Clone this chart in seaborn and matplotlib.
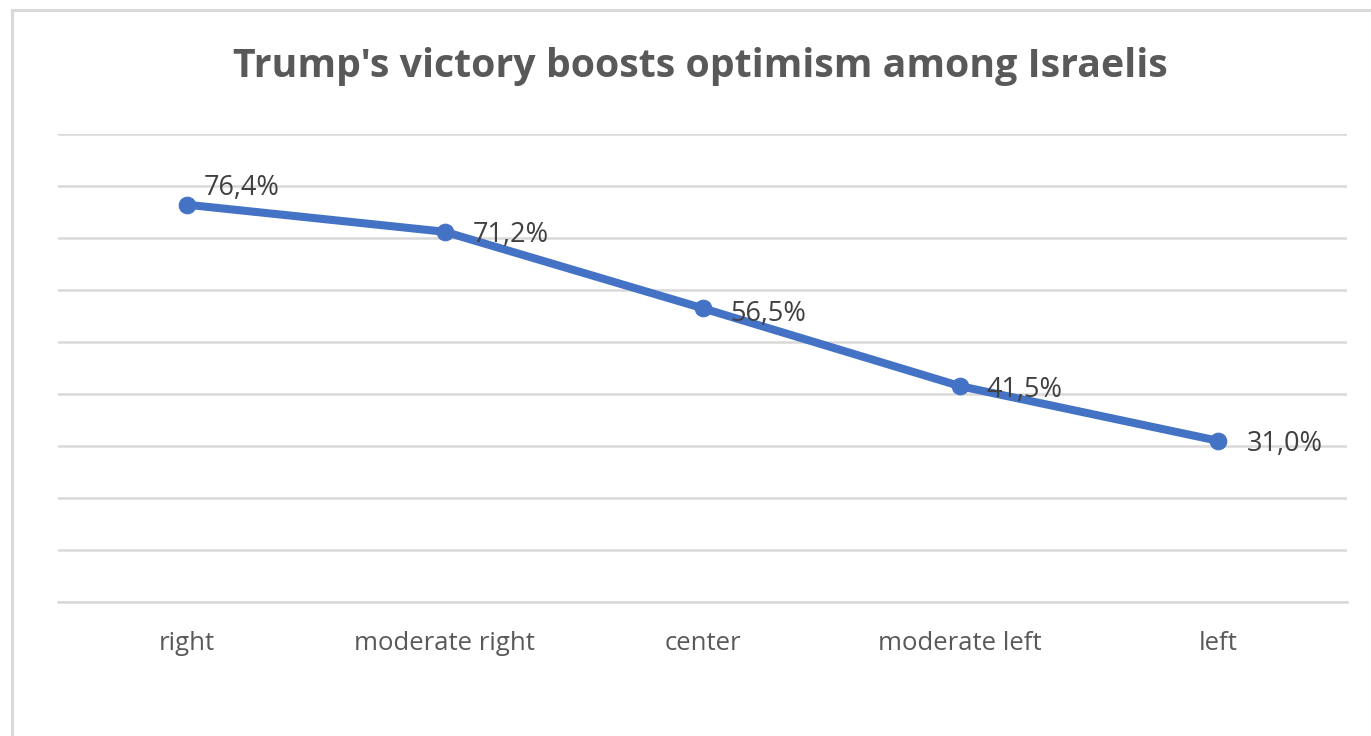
import matplotlib
matplotlib.use("Agg")
import matplotlib.pyplot as plt
import seaborn as sns
import pandas as pd
from matplotlib.patches import Rectangle

# === Data ===
categories = ["right", "moderate right", "center", "moderate left", "left"]
optimism = [76.4, 71.2, 56.5, 41.5, 31.0]
value_labels = ["76,4%", "71,2%", "56,5%", "41,5%", "31,0%"]
title = "Trump's victory boosts optimism among Israelis"


def main():
    sns.set_theme(style="white")
    plt.rcParams["font.family"] = ["Open Sans", "DejaVu Sans"]

    df = pd.DataFrame({"group": categories, "pct": optimism})
    df["pos"] = range(len(df))

    fig = plt.figure(figsize=(13.71, 7.36), dpi=100)
    # outer chart border (cropped on the right/bottom like the reference)
    fig.patches.append(Rectangle((12 / 1371, -0.05), 1.2, 1.05 - 10 / 736,
                                 transform=fig.transFigure, fill=False,
                                 edgecolor="#d9d9d9", linewidth=2.2))

    ax = fig.add_axes([58 / 1371, 1 - 602 / 736, (1347 - 58) / 1371, (602 - 134) / 736])

    sns.lineplot(data=df, x="pos", y="pct", ax=ax, color="#4472C4",
                 linewidth=5.8, marker="o", markersize=12,
                 markeredgecolor="#4472C4", zorder=3)

    ax.set_xlim(-0.5, len(categories) - 0.5)
    ax.set_ylim(0, 90)
    ax.set_yticks(range(0, 91, 10))
    ax.set_yticklabels([])
    ax.set_xticks(df["pos"])
    ax.set_xticklabels(categories, fontsize=18.5, color="#595959")
    ax.tick_params(axis="both", length=0)
    ax.tick_params(axis="x", pad=21)
    ax.set_xlabel("")
    ax.set_ylabel("")
    ax.grid(axis="y", color="#d9d9d9", linewidth=1.8)
    ax.set_axisbelow(True)
    for s in ax.spines.values():
        s.set_visible(False)
    ax.spines["bottom"].set_visible(True)
    ax.spines["bottom"].set_color("#d9d9d9")
    ax.spines["bottom"].set_linewidth(1.8)

    # data labels: right of points, the first one lifted above the line
    offsets = [(12, 12), (20, -2), (20, -4), (19, -3), (21, -2)]
    for i, (v, lab) in enumerate(zip(optimism, value_labels)):
        ax.annotate(lab, (i, v), xytext=offsets[i], textcoords="offset points",
                    fontsize=19.5, color="#404040", va="center", ha="left")

    fig.text(0.511, 1 - 66 / 736, title, ha="center", va="center",
             fontsize=28.3, fontweight="bold", color="#595959")

    fig.savefig("out.png", dpi=100)


if __name__ == "__main__":
    main()
